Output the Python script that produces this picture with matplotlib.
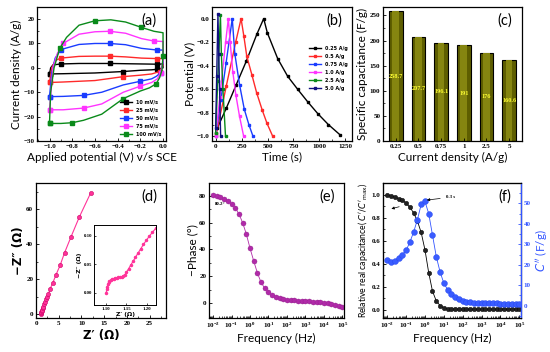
import numpy as np
import matplotlib
matplotlib.use("Agg")
import matplotlib.pyplot as plt
from matplotlib.ticker import AutoMinorLocator, LogLocator, NullFormatter

# ---------------- data ----------------
# (a) CV loops: potential (V) and current density (A/g), closed loops
cv_labels = ["10 mV/s", "25 mV/s", "50 mV/s", "75 mV/s", "100 mV/s"]
cv_colors = ["black", "#ff2a2a", "#1a3cff", "#ff33ff", "#0a8a1a"]
cv_x = [
    [-1.0, -0.99, -0.97, -0.9, -0.74, -0.6, -0.47, -0.33, -0.19, -0.05, 0.0, 0.0, -0.05, -0.1, -0.2, -0.35, -0.6, -0.88, -1.0, -1.0],
    [-1.0, -0.98, -0.95, -0.9, -0.74, -0.6, -0.47, -0.33, -0.19, -0.05, 0.0, 0.0, -0.03, -0.1, -0.2, -0.35, -0.6, -0.88, -1.0, -1.0],
    [-1.0, -0.98, -0.95, -0.9, -0.74, -0.6, -0.47, -0.33, -0.19, -0.05, 0.0, 0.0, -0.02, -0.06, -0.1, -0.2, -0.35, -0.54, -0.7, -0.88, -1.0, -1.0],
    [-1.0, -0.97, -0.93, -0.88, -0.74, -0.6, -0.47, -0.33, -0.19, -0.08, 0.0, 0.0, -0.02, -0.05, -0.1, -0.2, -0.35, -0.54, -0.7, -0.88, -1.0, -1.0],
    [-1.0, -0.99, -0.96, -0.91, -0.85, -0.74, -0.6, -0.46, -0.33, -0.19, -0.08, 0.0, 0.0, -0.01, -0.03, -0.06, -0.12, -0.2, -0.35, -0.54, -0.7, -0.8, -0.9, -1.0, -1.0],
]
cv_y = [
    [-2.6, 0.0, 1.2, 1.6, 1.8, 1.8, 1.8, 1.7, 1.6, 1.5, 1.6, 0.0, -0.6, -0.8, -1.0, -1.5, -2.1, -2.4, -2.5, -2.6],
    [-6.0, 0.0, 3.0, 4.0, 4.7, 4.8, 4.8, 4.5, 4.0, 3.8, 3.8, 1.0, -1.5, -2.5, -3.0, -3.6, -5.2, -5.8, -6.0, -6.0],
    [-11.8, -2.0, 4.0, 7.5, 9.6, 10.0, 10.0, 9.5, 8.0, 7.3, 7.3, 2.0, -2.0, -3.5, -4.5, -5.5, -7.0, -10.0, -11.3, -11.7, -11.8, -11.8],
    [-17.2, 0.0, 6.0, 10.0, 13.8, 14.8, 15.0, 14.2, 12.0, 11.0, 10.8, 3.0, -2.0, -4.5, -6.0, -7.5, -10.0, -14.8, -16.5, -17.2, -17.2, -17.2],
    [-22.7, -10.0, 0.0, 8.0, 12.5, 17.5, 19.3, 19.7, 18.8, 16.6, 15.0, 14.4, 5.0, -1.0, -4.0, -6.5, -8.2, -9.5, -12.6, -19.0, -21.5, -22.5, -22.8, -22.8, -22.7],
]

# (b) GCD curves: time (s), potential (V)
gcd_labels = ["0.25 A/g", "0.5 A/g", "0.75 A/g", "1.0 A/g", "2.5 A/g", "5.0 A/g"]
gcd_colors = ["black", "#ff2a2a", "#1a3cff", "#ff33ff", "#0a8a1a", "#101080"]
gcd_t = [
    [0, 16, 103, 199, 296, 398, 463, 498, 598, 694, 790, 890, 987, 1086, 1202],
    [0, 6, 103, 193, 245, 272, 300, 350, 395, 450, 495, 550],
    [0, 50, 100, 160, 185, 230, 276, 320, 360],
    [0, 40, 96, 122, 140, 165, 195, 230, 270],
    [0, 20, 46, 55, 70, 95],
    [0, 10, 22, 30, 38, 48],
]
gcd_v = [
    [-0.97, -0.93, -0.76, -0.56, -0.36, -0.13, 0.0, -0.12, -0.34, -0.49, -0.60, -0.71, -0.81, -0.90, -0.99],
    [-1.0, -0.98, -0.57, -0.2, 0.0, -0.15, -0.32, -0.48, -0.63, -0.78, -0.89, -1.0],
    [-1.0, -0.69, -0.38, 0.0, -0.3, -0.56, -0.77, -0.9, -1.0],
    [-1.0, -0.67, -0.2, 0.0, -0.2, -0.45, -0.65, -0.83, -1.0],
    [-0.97, -0.53, 0.03, -0.3, -0.6, -1.0],
    [-0.93, -0.49, 0.04, -0.3, -0.6, -1.0],
]

# (c) specific capacitance
cd_labels = ["0.25", "0.5", "0.75", "1", "2.5", "5"]
cap_vals = [258.7, 207.7, 196.1, 191, 176, 160.6]

# (d) Nyquist
zre = [1.1, 1.15, 1.2, 1.3, 1.4, 1.5, 1.6, 1.8, 2.0, 2.2, 2.4, 2.7, 3.1, 3.7, 4.4, 5.3, 6.3, 7.7, 9.5, 12.0]
zim = [0.0, 0.5, 1.0, 1.8, 2.5, 3.2, 4.0, 5.5, 7.0, 8.5, 9.8, 11.2, 14.4, 17.9, 22.5, 27.9, 35.2, 44.2, 55.4, 69.2]
zre_in = [1.100, 1.101, 1.102, 1.104, 1.106, 1.108, 1.111, 1.114, 1.118, 1.122, 1.126, 1.130, 1.134, 1.138, 1.142, 1.146, 1.150, 1.155, 1.160, 1.166, 1.172, 1.178, 1.185, 1.192, 1.199, 1.206, 1.214, 1.222]
zim_in = [0.000, 0.006, 0.010, 0.015, 0.018, 0.020, 0.022, 0.024, 0.025, 0.026, 0.026, 0.027, 0.027, 0.028, 0.030, 0.032, 0.036, 0.042, 0.048, 0.055, 0.062, 0.069, 0.077, 0.085, 0.092, 0.099, 0.106, 0.113]

# (e), (f) frequency as log10(Hz)
log_f = [-2.0, -1.8, -1.6, -1.4, -1.2, -1.0, -0.8, -0.6, -0.4, -0.2, 0.0, 0.2, 0.4, 0.6, 0.8, 1.0, 1.2, 1.4,
         1.6, 1.8, 2.0, 2.2, 2.4, 2.6, 2.8, 3.0, 3.2, 3.4, 3.6, 3.8, 4.0, 4.2, 4.4, 4.6, 4.8, 5.0]
phase = [80.2, 79.8, 79.0, 77.8, 76.2, 74.0, 71.0, 66.5, 60.0, 51.5, 41.0, 31.5, 22.5, 15.5, 11.0, 8.0, 6.0, 4.6,
         3.7, 3.1, 2.6, 2.3, 2.1, 1.9, 1.7, 1.5, 1.4, 1.2, 1.0, 0.8, 0.5, 0.1, -0.4, -1.0, -1.8, -2.8]
c_real = [1.0, 0.99, 0.98, 0.965, 0.95, 0.925, 0.89, 0.84, 0.77, 0.67, 0.52, 0.32, 0.16, 0.075, 0.035, 0.015, 0.007, 0.004,
          0.003, 0.002, 0.002, 0.001, 0.001, 0.001, 0.001, 0.001, 0.001, 0.001, 0.001, 0.001, 0.001, 0.001, 0.001, 0.001, 0.001, 0.001]
c_imag = [22.5, 21.5, 22.0, 23.5, 25.0, 27.0, 31.0, 36.0, 42.0, 49.5, 51.0, 45.0, 34.5, 24.0, 16.5, 11.0, 7.8, 5.5,
          4.0, 3.0, 2.4, 1.9, 1.6, 1.4, 1.3, 1.2, 1.15, 1.1, 1.1, 1.05, 1.0, 1.0, 1.0, 1.0, 1.0, 1.0]

# ---------------- style helpers ----------------
LAB = dict(family="Lato", fontsize=8.5)
TICKFONT = dict(family="Liberation Serif", weight="bold", size=5)


def style(ax, logx=False):
    ax.tick_params(direction="in", length=2.5, width=0.6, pad=2)
    ax.tick_params(which="minor", direction="in", length=1.5, width=0.5)
    if not logx:
        ax.xaxis.set_minor_locator(AutoMinorLocator(2))
    ax.yaxis.set_minor_locator(AutoMinorLocator(2))
    for s in ax.spines.values():
        s.set_linewidth(0.9)
    for lab in ax.get_xticklabels() + ax.get_yticklabels():
        lab.set_fontproperties(TICKFONT)


def panel_label(ax, txt):
    ax.text(0.93, 0.9, txt, transform=ax.transAxes, ha="right", va="center",
            family="Lato", fontsize=10.5)


fig = plt.figure(figsize=(5.5, 3.52), dpi=100)

# (a)
ax = fig.add_axes([0.0673, 0.5994, 0.2345, 0.381])
for x, y, c, l in zip(cv_x, cv_y, cv_colors, cv_labels):
    ax.plot(x, y, color=c, lw=1.0, marker="s", ms=2.2, markevery=3, label=l)
ax.set_xlim(-1.11, 0.026)
ax.set_ylim(-30, 25)
ax.set_xticks([-1.0, -0.8, -0.6, -0.4, -0.2, 0.0])
ax.set_yticks([-30, -20, -10, 0, 10, 20])
ax.set_xlabel("Applied potential (V) v/s SCE", labelpad=2, **LAB)
ax.set_ylabel("Current density (A/g)", labelpad=1, **LAB)
leg = ax.legend(loc="lower right", frameon=False, prop=dict(family="DejaVu Sans", weight="bold", size=3.5),
                handlelength=2.5, labelspacing=0.6, borderaxespad=0.5)
panel_label(ax, "(a)")
style(ax)

# (b)
ax = fig.add_axes([0.3855, 0.5994, 0.2545, 0.381])
for t, v, c, l in zip(gcd_t, gcd_v, gcd_colors, gcd_labels):
    ax.plot(t, v, color=c, lw=1.0, marker="s", ms=2, label=l)
ax.set_xlim(-35, 1314)
ax.set_ylim(-1.04, 0.1)
ax.set_xticks([0, 250, 500, 750, 1000, 1250])
ax.set_yticks([-1.0, -0.8, -0.6, -0.4, -0.2, 0.0])
ax.set_xlabel("Time (s)", labelpad=2, **LAB)
ax.set_ylabel("Potential (V)", labelpad=1, **LAB)
ax.legend(loc="upper right", bbox_to_anchor=(1.0, 0.74), frameon=False,
          prop=dict(family="DejaVu Sans", weight="bold", size=3.5),
          handlelength=2.5, labelspacing=0.6)
panel_label(ax, "(b)")
style(ax)

# (c)
ax = fig.add_axes([0.6964, 0.5994, 0.2527, 0.381])
pos = np.arange(len(cap_vals))
ax.bar(pos, cap_vals, width=0.6, color="#5e5e00", edgecolor="black", linewidth=0.8)
ax.bar(pos, cap_vals, width=0.3, color="#858510", linewidth=0)
for p, v in zip(pos, cap_vals):
    ax.text(p, v / 2, f"{v:g}", ha="center", va="center", color="#ffff33",
            family="Liberation Serif", weight="bold", fontsize=4.5)
ax.set_xlim(-0.56, 5.57)
ax.set_ylim(0, 267)
ax.set_xticks(pos)
ax.set_xticklabels(cd_labels)
ax.set_yticks([0, 50, 100, 150, 200, 250])
ax.set_xlabel("Current density (A/g)", labelpad=2, **LAB)
ax.set_ylabel("Specific capacitance (F/g)", labelpad=1, **LAB)
panel_label(ax, "(c)")
style(ax)
ax.xaxis.set_minor_locator(plt.NullLocator())

# (d)
ax = fig.add_axes([0.0655, 0.0966, 0.2364, 0.3835])
ax.plot(zre, zim, color="#ff3399", lw=0.8, marker="o", ms=3, mfc="#ff3399", mec="#cc0066", mew=0.4)
ax.set_xlim(0, 28.6)
ax.set_ylim(-2.3, 75)
ax.set_xticks([0, 5, 10, 15, 20, 25])
ax.set_yticks([0, 20, 40, 60])
ax.set_xlabel("Z\u2032 (\u03a9)", labelpad=2, family="DejaVu Sans", weight="bold", fontsize=8.5)
ax.set_ylabel("\u2212Z\u2033 (\u03a9)", labelpad=1, family="DejaVu Sans", weight="bold", fontsize=8.5)
panel_label(ax, "(d)")
style(ax)

ins = fig.add_axes([0.1715, 0.1344, 0.1122, 0.2264])
ins.plot(zre_in, zim_in, color="#ff3399", lw=0.8, marker="o", ms=1.5, mfc="#ff3399", mec="#ff3399")
ins.set_xlim(1.0705, 1.223)
ins.set_ylim(-0.021, 0.119)
ins.set_xticks([1.10, 1.15, 1.20])
ins.set_yticks([0.00, 0.05, 0.10])
ins.set_xticklabels(["1.10", "1.15", "1.20"])
ins.set_yticklabels(["0.00", "0.05", "0.10"])
ins.set_xlabel("Z\u2032 (\u03a9)", labelpad=1, family="DejaVu Sans", weight="bold", fontsize=4.5)
ins.set_ylabel("\u2212Z\u2033 (\u03a9)", labelpad=1, family="DejaVu Sans", weight="bold", fontsize=4.5)
ins.tick_params(direction="in", length=1.5, width=0.5, pad=1.5)
for s in ins.spines.values():
    s.set_linewidth(0.7)
for lab in ins.get_xticklabels() + ins.get_yticklabels():
    lab.set_fontproperties(dict(family="Liberation Serif", weight="bold", size=3.5))

freq = [10 ** e for e in log_f]
xmin, xmax = 10 ** -2.22, 10 ** 5.09

# (e)
ax = fig.add_axes([0.38, 0.0966, 0.2455, 0.3835])
ax.plot(freq, phase, color="#a0209a", lw=0.6, ls="none", marker="o", ms=3.6, mfc="#b02aa8", mec="#901a8a", mew=0.3)
ax.plot(freq, phase, color="#b02aa8", lw=0.6)
ax.set_xscale("log")
ax.set_xlim(xmin, xmax)
ax.set_ylim(-11, 89.5)
ax.set_yticks([0, 20, 40, 60, 80])
ax.xaxis.set_major_locator(LogLocator(base=10, numticks=10))
ax.xaxis.set_minor_locator(LogLocator(base=10, subs=np.arange(2, 10), numticks=20))
ax.xaxis.set_minor_formatter(NullFormatter())
ax.text(0.013, 73, "80.2\u00b0", family="Liberation Serif", weight="bold", fontsize=3.5)
ax.set_xlabel("Frequency (Hz)", labelpad=2, **LAB)
ax.set_ylabel("\u2212Phase (\u00b0)", labelpad=1, **LAB)
panel_label(ax, "(e)")
style(ax, logx=True)

# (f)
ax = fig.add_axes([0.6964, 0.0966, 0.251, 0.3835])
ax2 = ax.twinx()
ax.plot(freq, c_real, color="black", lw=0.6, marker="o", ms=3.2, mfc="#222222", mec="black", mew=0.3, zorder=3)
ax2.plot(freq, c_imag, color="#3355ff", lw=0.6, marker="o", ms=4.2, mfc="#3a5cff", mec="#2244ee", mew=0.3)
ax.set_xscale("log")
ax.set_xlim(xmin, xmax)
ax.set_ylim(-0.073, 1.10)
ax2.set_ylim(-6.07, 60)
ax.set_yticks([0.0, 0.2, 0.4, 0.6, 0.8, 1.0])
ax2.set_yticks([0, 10, 20, 30, 40, 50])
ax.xaxis.set_major_locator(LogLocator(base=10, numticks=10))
ax.xaxis.set_minor_locator(LogLocator(base=10, subs=np.arange(2, 10), numticks=20))
ax.xaxis.set_minor_formatter(NullFormatter())
ax.set_xlabel("Frequency (Hz)", labelpad=2, **LAB)
ax.set_ylabel("Relative real capacitance( $C'/C'_{\\mathrm{max}}$)", labelpad=1, family="Lato", fontsize=6.2)
ax2.set_ylabel("$C''$ (F/g)", color="#3355ff", labelpad=2, family="Lato", fontsize=8.5)
ax2.annotate("0.3 s", xy=(0.9, 51.5), xytext=(10 ** 1.1, 53), color="black",
             family="Liberation Serif", weight="bold", fontsize=3.5, va="center",
             arrowprops=dict(arrowstyle="-|>", color="black", lw=0.5, mutation_scale=4))
ax.annotate("", xy=(0.012, 0.87), xytext=(0.06, 0.9),
            arrowprops=dict(arrowstyle="-|>", color="black", lw=0.5, mutation_scale=4))
ax2.annotate("", xy=(10 ** 5.15, 8.5), xytext=(10 ** 4.25, 3),
             arrowprops=dict(arrowstyle="-|>", color="black", lw=0.5, mutation_scale=4))
panel_label(ax, "(f)")
style(ax, logx=True)
ax2.tick_params(direction="in", length=2.5, width=0.6, pad=2, colors="#3355ff")
ax2.yaxis.set_minor_locator(AutoMinorLocator(2))
ax2.tick_params(which="minor", direction="in", length=1.5, color="#3355ff")
ax2.spines["right"].set_color("#3355ff")
ax2.spines["right"].set_linewidth(0.9)
for lab in ax2.get_yticklabels():
    lab.set_fontproperties(TICKFONT)

fig.savefig("out.png", dpi=100)
